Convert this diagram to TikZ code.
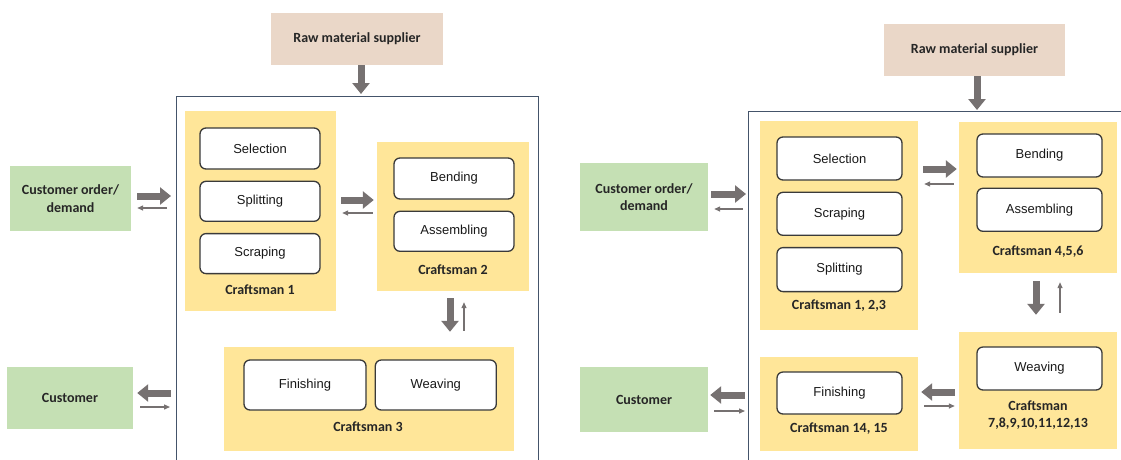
\documentclass[tikz,border=0pt]{standalone}
\usepackage{fontspec}
\setmainfont{Carlito}
\newfontfamily\arialfont{Liberation Sans}
\usetikzlibrary{positioning, calc, arrows.meta}

\definecolor{supplierpink}{HTML}{EAD7C8}
\definecolor{partygreen}{HTML}{C5E0B4}
\definecolor{crewyellow}{HTML}{FFE699}
\definecolor{arrowgrey}{HTML}{767171}
\definecolor{frameblue}{HTML}{44546A}
\definecolor{tagtext}{HTML}{262626}
\definecolor{taskedge}{HTML}{3A3A3A}

\tikzset{
  party/.style={fill=#1, text=tagtext, font=\fontsize{14}{17.5}\selectfont\bfseries, align=center, inner sep=0pt},
  crew/.style={fill=crewyellow, inner sep=0pt},
  crewtag/.style={text=tagtext, font=\fontsize{14}{17}\selectfont\bfseries, align=center, inner sep=0pt},
  task/.style={draw=taskedge, fill=white, line width=1.3pt, rounded corners=6pt, inner sep=0pt, text=black!90, font=\arialfont\fontsize{13}{15}\selectfont},
  framing/.style={draw=frameblue, line width=1pt},
  fat/.style={draw=arrowgrey, line width=7pt, -{Triangle[length=11pt,width=17pt]}},
  slim/.style={draw=arrowgrey, line width=1.3pt, -{Triangle[length=6pt,width=5pt]}}
}

\begin{document}
\begin{tikzpicture}[x=1pt, y=-1pt]
\useasboundingbox (0,0) rectangle (1121,459);

%% left: three craftsmen
\coordinate (frameL) at (176,96);
\draw[framing] (176,461) -- (frameL) -- (538,96) -- (538,461);

\node[party=supplierpink, minimum width=172pt, minimum height=52pt] (supL) at (357,39)    {Raw material supplier};
\node[party=partygreen,   minimum width=121pt, minimum height=65pt] (cordL) at (70.5,198.5) {Customer order/\\demand};
\node[party=partygreen,   minimum width=126pt, minimum height=62pt] (custL) at (70,398)    {Customer};

\node[crew, minimum width=151pt, minimum height=200pt] (c1L) at (260.5,211) {};
\node[crew, minimum width=152pt, minimum height=149pt] (c2L) at (453,216.5) {};
\node[crew, minimum width=290pt, minimum height=104pt] (c3L) at (369,399)   {};

\node[task, minimum width=120pt, minimum height=41pt] (selL) at (260,148.5) {Selection};
\node[task, minimum width=120pt, minimum height=40pt] (splL) [below=11pt of selL] {Splitting};
\node[task, minimum width=120pt, minimum height=40pt] (scrL) [below=11pt of splL] {Scraping};
\node[crewtag] (c1Ltag) at (260,290) {Craftsman 1};

\node[task, minimum width=120pt, minimum height=41pt] (benL) at (454,178.5) {Bending};
\node[task, minimum width=120pt, minimum height=40pt] (assL) [below=11pt of benL] {Assembling};
\node[crewtag] (c2Ltag) at (453,270) {Craftsman 2};

\node[task, minimum width=122pt, minimum height=50pt] (finL) at (305,385) {Finishing};
\node[task, minimum width=121pt, minimum height=50pt] (weaL) [right=8pt of finL] {Weaving};
\node[crewtag] (c3Ltag) at (368,427) {Craftsman 3};

% flows
\draw[fat]  ($(supL.south)+(4,0)$) -- ($(supL.south |- frameL)+(4,-2)$);
\draw[fat]  ($(cordL.east)+(6,-2.5)$) -- ($(cordL.east -| frameL)+(-5,-2.5)$);
\draw[slim] ($(cordL.east -| frameL)+(-9,9.5)$) -- ($(cordL.east)+(6,9.5)$);
\draw[fat]  ($(custL.east -| frameL)+(-5,-5)$) -- ($(custL.east)+(4,-5)$);
\draw[slim] ($(custL.east)+(7,9)$) -- ($(custL.east -| frameL)+(-6,9)$);
\draw[fat]  ($(c1L.east)+(5,-11)$) -- ($(c2L.west)+(-3,-16.5)$);
\draw[slim] ($(c2L.west)+(-4,-3.5)$) -- ($(c1L.east)+(6,2)$);
\draw[fat]  ($(c2L.south)+(-3,7)$) -- ($(c2L.south |- c3L.north)+(-3,-15)$);
\draw[slim] ($(c2L.south |- c3L.north)+(11,-16)$) -- ($(c2L.south)+(11,11)$);

%% right: fifteen craftsmen
\coordinate (frameR) at (748.5,111);
\draw[framing] (748.5,461) -- (frameR) -- (1123,111);

\node[party=supplierpink, minimum width=181pt, minimum height=52pt] (supR) at (974.5,50)  {Raw material supplier};
\node[party=partygreen,   minimum width=128pt, minimum height=68pt] (cordR) at (644,197)  {Customer order/\\demand};
\node[party=partygreen,   minimum width=128pt, minimum height=65pt] (custR) at (644,399.5) {Customer};

\node[crew, minimum width=158pt, minimum height=209pt] (c123) at (839,225.5)  {};
\node[crew, minimum width=158pt, minimum height=151pt] (c456) at (1038,197.5) {};
\node[crew, minimum width=158pt, minimum height=117pt] (c713) at (1038,390.5) {};
\node[crew, minimum width=158pt, minimum height=94pt]  (c1415) at (839,404)   {};

\node[task, minimum width=125pt, minimum height=43pt] (selR) at (839.5,158.5) {Selection};
\node[task, minimum width=125pt, minimum height=43pt] (scrR) [below=11pt of selR] {Scraping};
\node[task, minimum width=125pt, minimum height=44pt] (splR) [below=11pt of scrR] {Splitting};
\node[crewtag] (c123tag) at (839,306) {Craftsman 1, 2,3};

\node[task, minimum width=125pt, minimum height=43pt] (benR) at (1039.5,155.5) {Bending};
\node[task, minimum width=125pt, minimum height=43pt] (assR) [below=10pt of benR] {Assembling};
\node[crewtag] (c456tag) at (1038,252) {Craftsman 4,5,6};

\node[task, minimum width=125pt, minimum height=43pt] (weaR) at (1039.5,368.5) {Weaving};
\node[crewtag] (c713tag) at (1038,415.5) {Craftsman\\7,8,9,10,11,12,13};

\node[task, minimum width=125pt, minimum height=42pt] (finR) at (839.5,393) {Finishing};
\node[crewtag] (c1415tag) at (839,429) {Craftsman 14, 15};

% flows
\draw[fat]  ($(supR.south)+(2.5,0)$) -- ($(supR.south |- frameR)+(2.5,-1)$);
\draw[fat]  ($(cordR.east)+(3,-3)$) -- ($(cordR.east -| frameR)+(-2.5,-3)$);
\draw[slim] ($(cordR.east -| frameR)+(-5.5,12)$) -- ($(cordR.east)+(6,12)$);
\draw[fat]  ($(custR.east -| frameR)+(-3.5,-4.5)$) -- ($(custR.east)+(2,-4.5)$);
\draw[slim] ($(custR.east)+(6,11.5)$) -- ($(custR.east -| frameR)+(-3.5,11.5)$);
\draw[fat]  ($(c123.east)+(5,-56.5)$) -- ($(c456.west)+(-2,-28.5)$);
\draw[slim] ($(c456.west)+(-5,-13.5)$) -- ($(c123.east)+(6,-41.5)$);
\draw[fat]  ($(c456.south)+(-2,8)$) -- ($(c713.north)+(-2,-17)$);
\draw[slim] ($(c713.north)+(22,-19)$) -- ($(c456.south)+(22,9)$);
\draw[fat]  ($(c713.west)+(-4,1.5)$) -- ($(c1415.east)+(3,-12)$);
\draw[slim] ($(c1415.east)+(6,2)$) -- ($(c713.west)+(-4,15.5)$);
\end{tikzpicture}
\end{document}
